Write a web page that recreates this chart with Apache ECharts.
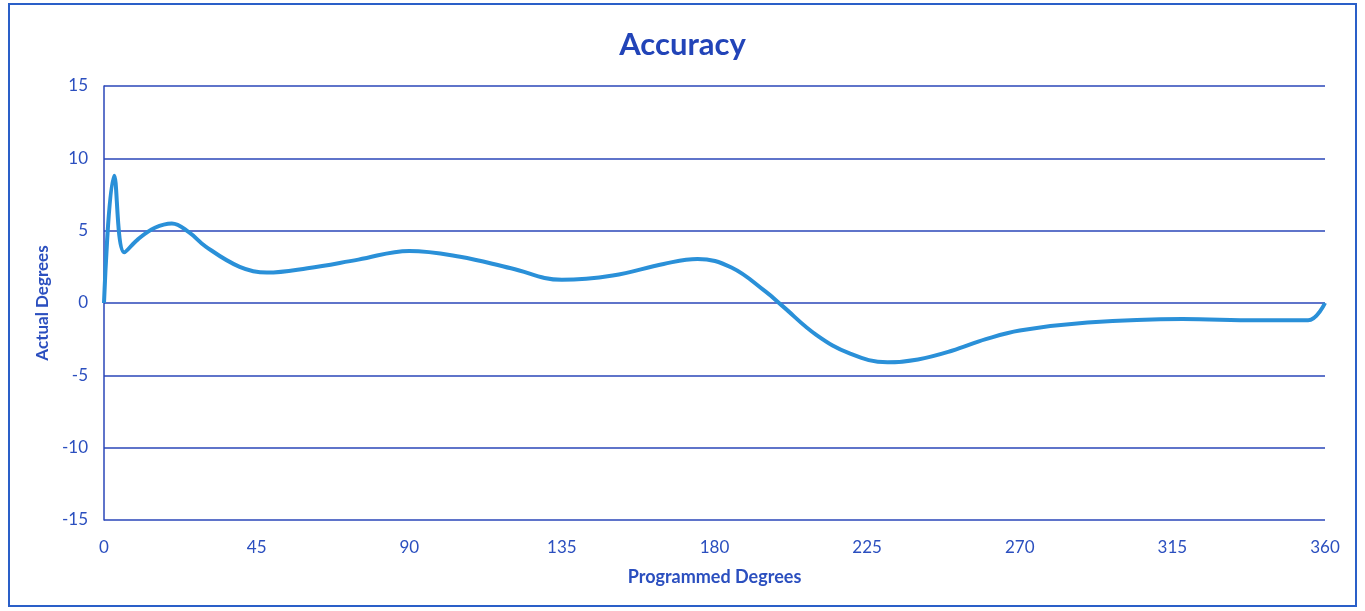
<!DOCTYPE html>
<html>
<head>
<meta charset="utf-8">
<script src="https://cdn.jsdelivr.net/npm/echarts@6/dist/echarts.min.js"></script>
<style>
html,body{margin:0;padding:0;background:#fff;}
#frame{position:absolute;left:8px;top:3px;width:1349px;height:604px;border:2px solid #2a5fc8;box-sizing:border-box;}
#chart{position:absolute;left:0;top:0;width:1365px;height:611px;}
</style>
</head>
<body>
<div id="frame"></div>
<div id="chart"></div>
<script>
const programmedDegrees = [0, 3, 6, 10, 15, 20, 25, 30, 40, 48, 60, 75, 90, 105, 120, 135, 150, 165, 175, 185, 195, 200, 210, 220, 231, 240, 250, 260, 270, 290, 318, 340, 355, 360];
const actualDegrees =     [0, 8.8, 3.5, 4.4, 5.2, 5.5, 4.9, 3.9, 2.5, 2.1, 2.4, 3.0, 3.6, 3.2, 2.4, 1.6, 1.9, 2.7, 3.05, 2.45, 0.8, -0.2, -2.2, -3.5, -4.1, -3.9, -3.3, -2.5, -1.9, -1.35, -1.1, -1.2, -1.2, 0];
const xTicks = [0, 45, 90, 135, 180, 225, 270, 315, 360];
const yTicks = [-15, -10, -5, 0, 5, 10, 15];

const seriesData = programmedDegrees.map((x, i) => [x, actualDegrees[i]]);
const textBlue = '#2b4fbf';
const gridBlue = '#2a46b8';

const chart = echarts.init(document.getElementById('chart'));
chart.setOption({
  backgroundColor: 'transparent',
  title: {
    text: 'Accuracy',
    left: 'center',
    top: 24,
    textStyle: { fontFamily: 'Lato', fontSize: 31, fontWeight: 'bold', color: '#2244b8' }
  },
  grid: { left: 104, right: 40, top: 86, bottom: 91 },
  xAxis: {
    type: 'value',
    min: xTicks[0], max: xTicks[xTicks.length - 1], interval: 45,
    name: 'Programmed Degrees',
    nameLocation: 'middle',
    nameGap: 48,
    nameTextStyle: { fontFamily: 'Lato', fontSize: 18, fontWeight: 'bold', color: textBlue },
    axisLine: { show: false },
    axisTick: { show: false },
    splitLine: { show: false },
    axisLabel: { fontFamily: 'Lato', fontSize: 17, color: textBlue, margin: 19 }
  },
  yAxis: {
    type: 'value',
    min: yTicks[0], max: yTicks[yTicks.length - 1], interval: 5,
    name: 'Actual Degrees',
    nameLocation: 'middle',
    nameGap: 52,
    nameTextStyle: { fontFamily: 'Lato', fontSize: 17, fontWeight: 'bold', color: textBlue },
    axisLine: { show: true, onZero: false, lineStyle: { color: gridBlue, width: 1.5 } },
    axisTick: { show: false },
    splitLine: { show: true, lineStyle: { color: gridBlue, width: 1.5 } },
    axisLabel: { fontFamily: 'Lato', fontSize: 17, color: textBlue, margin: 16 }
  },
  series: [{
    type: 'line',
    data: seriesData,
    smooth: 0.4,
    symbol: 'none',
    lineStyle: { color: '#2a90d8', width: 4 }
  }],
  animation: false
});
</script>
</body>
</html>
